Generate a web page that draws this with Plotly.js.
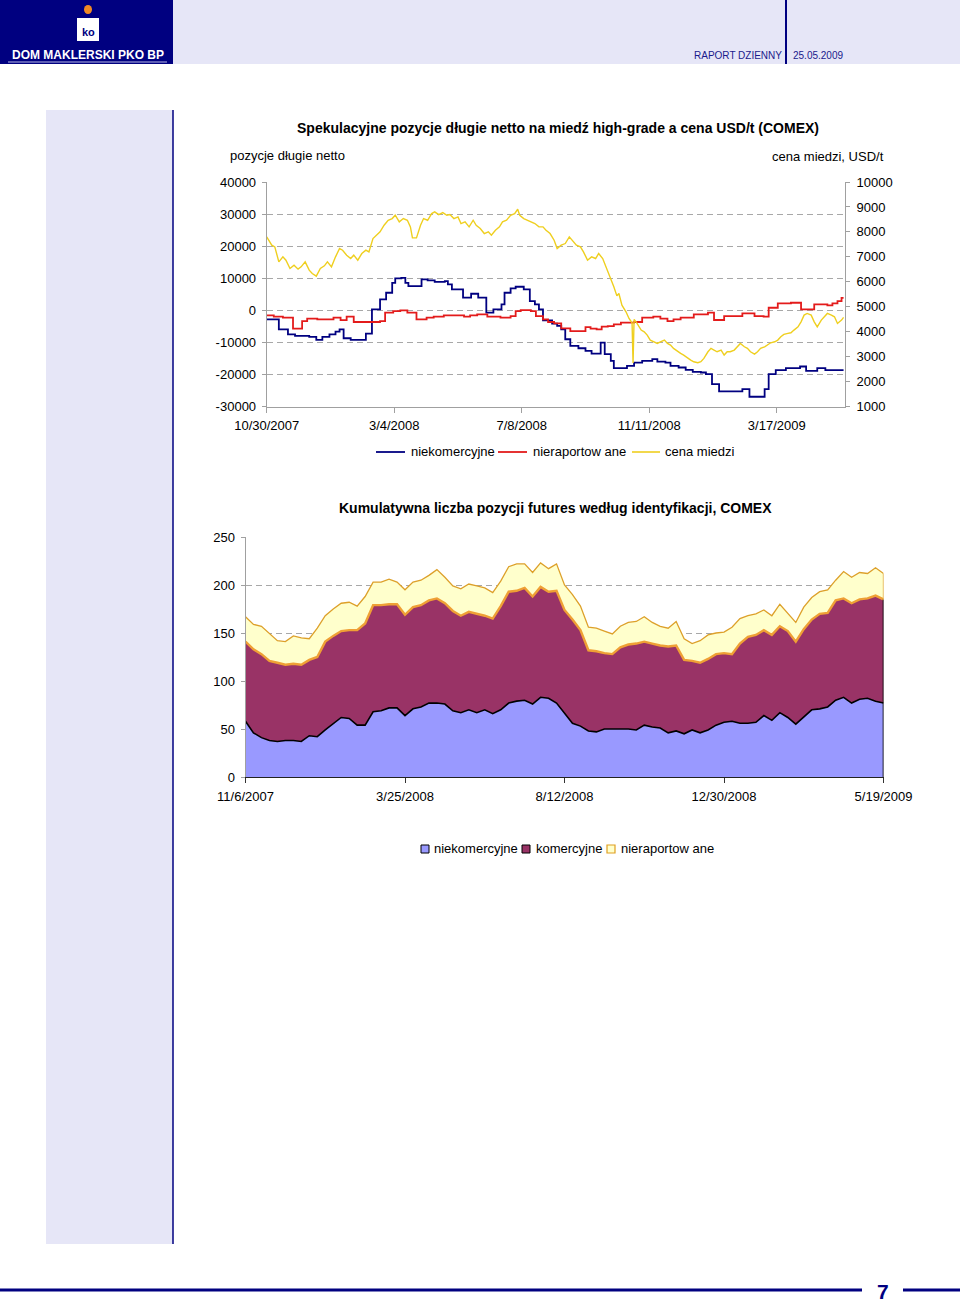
<!DOCTYPE html>
<html>
<head>
<meta charset="utf-8">
<script src="https://cdn.plot.ly/plotly-3.0.1.min.js"></script>
<style>
html,body{margin:0;padding:0;background:#fff;}
#chart{width:960px;height:1302px;}
</style>
</head>
<body>
<div id="chart"></div>
<script>
// ---------- Chart 1: net long speculative positions vs copper price ----------
// x values are days since 2007-10-30 (first point of the chart)
const chart1Start = '2007-10-30';
const chart1TickDates = ['2007-10-30','2008-03-04','2008-07-08','2008-11-11','2009-03-17'];
const chart1TickText = ['10/30/2007','3/4/2008','7/8/2008','11/11/2008','3/17/2009'];
const leftTicks = [-30000,-20000,-10000,0,10000,20000,30000,40000];
const rightTicks = [1000,2000,3000,4000,5000,6000,7000,8000,9000,10000];

// niekomercyjne (weekly steps)
const niekomDay = [0,12,21,28,42,49,55,62,68,72,76,83,98,104,112,118,124,127,133,137,140,153,159,166,176,179,183,194,202,209,217,224,232,235,241,246,254,260,265,269,273,282,287,291,295,300,308,315,321,330,334,340,343,356,363,371,381,386,394,399,407,414,421,429,434,440,447,470,477,492,496,503,513,527,533,544,552,570];
const niekomNet = [-2780,-5890,-7440,-7960,-8270,-9200,-8270,-7440,-6610,-5890,-8680,-9200,-7230,320,3430,5500,8600,9950,10150,8600,7570,9640,9330,8910,9120,8090,6530,3950,5190,3950,-710,320,1880,5500,6840,7360,6530,2910,1880,320,-3090,-4130,-4850,-5890,-8990,-11060,-11790,-12620,-13440,-10030,-13650,-15720,-17990,-17270,-16240,-15720,-15200,-15930,-16240,-17270,-17790,-18510,-19140,-19340,-19860,-22960,-25240,-24520,-26900,-24520,-19860,-18620,-17990,-17480,-18830,-17990,-18620,-18620];

// nieraportowane (weekly steps)
const nierapDay = [0,7,16,26,35,40,50,66,73,79,86,112,117,125,132,139,148,158,165,175,195,201,208,218,231,241,246,251,261,266,273,278,284,291,300,315,320,326,331,337,343,350,363,371,382,389,396,402,409,422,436,442,452,470,482,491,496,505,518,528,541,554,559,564,568,570];
const nierapNet = [-1550,-1970,-2280,-5690,-3310,-2590,-2800,-2280,-3000,-1970,-3620,-3310,-720,-210,0,-720,-2800,-2280,-1970,-1550,-1970,-1550,-1240,-1970,-2280,-1760,-210,100,-210,-1760,-2800,-3620,-4040,-5600,-6440,-5190,-5700,-5900,-5080,-4870,-4350,-3830,-3620,-2280,-1970,-2590,-3310,-2800,-2280,-1240,-720,-2990,-1760,-930,-1760,-1970,830,2170,2380,310,1860,1550,2170,2900,3930,3930];

// cena miedzi, USD/t
const priceDay = [0,5,8,12,16,19,23,27,31,34,38,42,45,49,53,57,60,64,68,72,75,79,83,86,90,94,98,101,105,109,112,116,120,124,127,131,135,139,142,144,148,152,155,159,163,166,170,174,178,181,185,189,192,196,200,204,207,211,215,219,222,226,230,233,237,241,245,248,250,254,258,261,265,269,273,276,280,284,287,291,295,299,302,306,310,313,317,321,325,328,332,336,340,343,346,348,351,355,358,361,362,363,365,368,370,373,376,379,383,386,389,393,396,399,402,406,409,412,416,419,422,426,429,432,436,439,442,445,449,452,455,458,462,465,468,472,475,478,482,485,488,492,495,498,502,505,508,511,515,518,521,525,528,531,534,538,541,544,548,551,554,558,561,564,568,570];
const priceVal = [7802,7468,7402,6802,7002,6869,6535,6669,6509,6602,6802,6469,6335,6229,6535,6642,6802,6602,7002,7335,7268,7069,6935,7069,6869,7135,7268,7202,7735,7868,8002,8268,8468,8535,8668,8402,8535,8468,8202,7762,7762,8268,8535,8468,8735,8802,8695,8775,8668,8695,8535,8602,8335,8402,8202,8468,8268,8135,7935,8002,7868,8068,8202,8402,8468,8668,8735,8908,8668,8535,8468,8402,8335,8202,8202,8068,7935,7668,7335,7468,7535,7802,7668,7468,7402,7202,6869,7002,6935,7135,6935,6535,6068,5800,5440,5533,5068,4800,4533,4360,2748,4496,4400,4200,4068,4000,3868,3668,3600,3535,3600,3668,3535,3468,3335,3200,3135,3068,2935,2868,2800,2760,2800,2935,3200,3335,3268,3200,3268,3068,3200,3200,3268,3400,3535,3400,3335,3200,3108,3200,3335,3400,3468,3560,3600,3668,3800,3895,3935,3960,4068,4200,4400,4668,4735,4668,4400,4200,4468,4600,4735,4668,4600,4335,4468,4575];

// ---------- Chart 2: cumulative futures positions by identification ----------
const weeks = ['2007-11-06','2007-11-13','2007-11-20','2007-11-27','2007-12-04','2007-12-11','2007-12-18','2007-12-25',
'2008-01-01','2008-01-08','2008-01-15','2008-01-22','2008-01-29','2008-02-05','2008-02-12','2008-02-19','2008-02-26',
'2008-03-04','2008-03-11','2008-03-18','2008-03-25','2008-04-01','2008-04-08','2008-04-15','2008-04-22','2008-04-29',
'2008-05-06','2008-05-13','2008-05-20','2008-05-27','2008-06-03','2008-06-10','2008-06-17','2008-06-24',
'2008-07-01','2008-07-08','2008-07-15','2008-07-22','2008-07-29','2008-08-05','2008-08-12','2008-08-19','2008-08-26',
'2008-09-02','2008-09-09','2008-09-16','2008-09-23','2008-09-30','2008-10-07','2008-10-14','2008-10-21','2008-10-28',
'2008-11-04','2008-11-11','2008-11-18','2008-11-25','2008-12-02','2008-12-09','2008-12-16','2008-12-23','2008-12-30',
'2009-01-06','2009-01-13','2009-01-20','2009-01-27','2009-02-03','2009-02-10','2009-02-17','2009-02-24',
'2009-03-03','2009-03-10','2009-03-17','2009-03-24','2009-03-31','2009-04-07','2009-04-14','2009-04-21','2009-04-28',
'2009-05-05','2009-05-12','2009-05-19'];
const chart2TickDates = ['2007-11-06','2008-03-25','2008-08-12','2008-12-30','2009-05-19'];
const chart2TickText = ['11/6/2007','3/25/2008','8/12/2008','12/30/2008','5/19/2009'];
const niekomercyjne = [58,46,41,38,37,38,38,37,43,42,49,56,62,61,54,54,68,69,72,72,64,71,73,77,77,76,69,67,70,67,70,66,70,77,79,80,76,83,82,77,66,56,53,48,47,50,50,50,50,49,54,52,51,46,48,45,49,46,49,54,57,58,56,56,57,64,59,67,62,55,63,70,71,73,80,83,77,81,82,79,77];
const komercyjne = [83,87,87,83,82,79,80,80,79,83,92,91,90,92,99,106,111,110,108,108,105,106,106,107,109,105,104,101,102,103,98,99,108,116,115,117,112,115,111,117,108,108,100,84,84,79,78,85,88,90,87,87,86,90,89,77,72,73,74,74,72,70,83,90,91,89,89,90,90,86,91,94,99,98,104,103,104,104,104,110,108];
const nieraportowane = [26,26,29,29,23,24,29,28,22,30,27,28,29,29,25,28,24,24,26,23,26,26,26,26,30,27,26,28,29,29,29,27,26,26,28,25,25,25,24,28,26,26,25,24,24,23,21,22,23,23,26,22,20,19,25,22,18,23,25,22,22,28,26,22,22,21,20,23,18,20,23,23,23,24,21,28,27,28,26,29,27];

// ---------- helpers ----------
const FONT = 'Liberation Sans, Arial, Helvetica, sans-serif';
const NAVY = '#000080';
const LAV = '#E6E6F7';
function px(x){return x/960;}
function py(y){return 1 - y/1302;}
function dayToDate(d){
  const t = Date.UTC(2007,9,30) + d*86400000;
  return new Date(t).toISOString().slice(0,10);
}

const traces = [
  {x: niekomDay.map(dayToDate), y: niekomNet, xaxis:'x', yaxis:'y', mode:'lines',
   line:{color:NAVY, width:1.8, shape:'hv'}, name:'niekomercyjne', hoverinfo:'skip'},
  {x: nierapDay.map(dayToDate), y: nierapNet, xaxis:'x', yaxis:'y', mode:'lines',
   line:{color:'#E31B1B', width:1.8, shape:'hv'}, name:'nieraportowane', hoverinfo:'skip'},
  {x: priceDay.map(dayToDate), y: priceVal, xaxis:'x', yaxis:'y2', mode:'lines',
   line:{color:'#EFCF1F', width:1.4}, name:'cena miedzi', hoverinfo:'skip'},
  {x: weeks, y: niekomercyjne, xaxis:'x2', yaxis:'y3', mode:'lines', stackgroup:'one',
   fillcolor:'#9999FF', line:{color:'#000000', width:1.6}, name:'niekomercyjne', hoverinfo:'skip'},
  {x: weeks, y: komercyjne, xaxis:'x2', yaxis:'y3', mode:'lines', stackgroup:'one',
   fillcolor:'#993366', line:{color:'#EFA035', width:2.4}, name:'komercyjne', hoverinfo:'skip'},
  {x: weeks, y: nieraportowane, xaxis:'x2', yaxis:'y3', mode:'lines', stackgroup:'one',
   fillcolor:'#FFFFCC', line:{color:'#DDA02A', width:1.3}, name:'nieraportowane', hoverinfo:'skip'}
];
// right-edge borders of stacked areas
const n = weeks.length - 1;
const lastDate = weeks[n];
const lvl1 = niekomercyjne[n] + komercyjne[n];
const lvl2 = lvl1 + nieraportowane[n];
traces.push({x:[lastDate,lastDate], y:[0,lvl1], xaxis:'x2', yaxis:'y3', mode:'lines',
  line:{color:'#000000', width:1.6}, hoverinfo:'skip'});
traces.push({x:[lastDate,lastDate], y:[lvl1,lvl2], xaxis:'x2', yaxis:'y3', mode:'lines',
  line:{color:'#DDA02A', width:1.3}, hoverinfo:'skip'});

const shapes = [
  // header
  {type:'rect', xref:'paper', yref:'paper', x0:px(0), x1:px(173), y0:py(64), y1:py(0), fillcolor:NAVY, line:{width:0}, layer:'below'},
  {type:'rect', xref:'paper', yref:'paper', x0:px(173), x1:px(960), y0:py(64), y1:py(0), fillcolor:LAV, line:{width:0}, layer:'below'},
  {type:'line', xref:'paper', yref:'paper', x0:px(786), x1:px(786), y0:py(64), y1:py(0), line:{color:NAVY, width:2}},
  {type:'line', xref:'paper', yref:'paper', x0:px(8), x1:px(167), y0:py(62), y1:py(62), line:{color:'#7C7CC4', width:1.5}},
  {type:'circle', xref:'paper', yref:'paper', x0:px(84), x1:px(92), y0:py(14), y1:py(5), fillcolor:'#F08A24', line:{width:0}},
  {type:'rect', xref:'paper', yref:'paper', x0:px(77), x1:px(99), y0:py(41), y1:py(18), fillcolor:'#FFFFFF', line:{width:0}},
  // sidebar
  {type:'rect', xref:'paper', yref:'paper', x0:px(46), x1:px(173), y0:py(1244), y1:py(110), fillcolor:LAV, line:{width:0}, layer:'below'},
  {type:'line', xref:'paper', yref:'paper', x0:px(173), x1:px(173), y0:py(1244), y1:py(110), line:{color:NAVY, width:1.5}},
  // footer
  {type:'line', xref:'paper', yref:'paper', x0:px(0), x1:px(862), y0:py(1290), y1:py(1290), line:{color:NAVY, width:3}},
  {type:'line', xref:'paper', yref:'paper', x0:px(903), x1:px(960), y0:py(1290), y1:py(1290), line:{color:NAVY, width:3}},
  // legend 1 samples
  {type:'line', xref:'paper', yref:'paper', x0:px(376), x1:px(405), y0:py(452), y1:py(452), line:{color:NAVY, width:1.8}},
  {type:'line', xref:'paper', yref:'paper', x0:px(498), x1:px(527), y0:py(452), y1:py(452), line:{color:'#E31B1B', width:1.8}},
  {type:'line', xref:'paper', yref:'paper', x0:px(632), x1:px(660), y0:py(452), y1:py(452), line:{color:'#EFCF1F', width:1.6}},
  // legend 2 swatches
  {type:'rect', xref:'paper', yref:'paper', x0:px(421), x1:px(429), y0:py(853), y1:py(845), fillcolor:'#9999FF', line:{color:'#000000', width:1}},
  {type:'rect', xref:'paper', yref:'paper', x0:px(522), x1:px(530), y0:py(853), y1:py(845), fillcolor:'#993366', line:{color:'#000000', width:1}},
  {type:'rect', xref:'paper', yref:'paper', x0:px(607), x1:px(615), y0:py(853), y1:py(845), fillcolor:'#FFFFCC', line:{color:'#E0A020', width:1.2}}
];

function ann(text, x, y, opts){
  return Object.assign({text:text, xref:'paper', yref:'paper', x:px(x), y:py(y), showarrow:false,
    xanchor:'left', yanchor:'middle', font:{family:FONT, size:13, color:'#000'}}, opts||{});
}
const annotations = [
  ann('<b>DOM MAKLERSKI PKO BP</b>', 88, 55, {xanchor:'center', font:{family:FONT, size:12, color:'#FFFFFF'}}),
  ann('<b>ko</b>', 88, 32, {xanchor:'center', font:{family:FONT, size:11, color:NAVY}}),
  ann('RAPORT DZIENNY', 692, 55, {font:{family:FONT, size:10, color:'#1A1A8C'}}),
  ann('25.05.2009', 791, 55, {font:{family:FONT, size:10, color:'#1A1A8C'}}),
  ann('<b>Spekulacyjne pozycje długie netto na miedź high-grade a cena USD/t (COMEX)</b>', 558, 128, {xanchor:'center', font:{family:FONT, size:14, color:'#000'}}),
  ann('pozycje długie netto', 228, 155),
  ann('cena miedzi, USD/t', 770, 156),
  ann('niekomercyjne', 409, 452),
  ann('nieraportow ane', 531, 452),
  ann('cena miedzi', 663, 452),
  ann('<b>Kumulatywna liczba pozycji futures według identyfikacji, COMEX</b>', 555, 508, {xanchor:'center', font:{family:FONT, size:14, color:'#000'}}),
  ann('niekomercyjne', 432, 848),
  ann('komercyjne', 534, 848),
  ann('nieraportow ane', 619, 848),
  ann('<b>7</b>', 883, 1291, {xanchor:'center', font:{family:FONT, size:21, color:NAVY}})
];

const tickFont = {family:FONT, size:13, color:'#000'};
const GRID = '#A8A8A8';
const layout = {
  width:960, height:1302,
  margin:{l:0, r:0, t:0, b:0},
  paper_bgcolor:'#FFFFFF', plot_bgcolor:'rgba(0,0,0,0)',
  showlegend:false,
  font:{family:FONT, size:13, color:'#000'},
  xaxis:{domain:[px(266.7), px(845)], anchor:'y', type:'date',
    range:[chart1Start, '2009-05-23 10:00'],
    tickmode:'array', tickvals:chart1TickDates, ticktext:chart1TickText,
    ticks:'outside', ticklen:5, tickcolor:'#A0A0A0', showline:true, linecolor:'#A0A0A0', linewidth:1,
    showgrid:false, zeroline:false, tickfont:tickFont, ticklabelstandoff:2},
  yaxis:{domain:[py(406.7), py(182)], anchor:'x', range:[-30000,40000],
    tickmode:'array', tickvals:leftTicks, ticktext:leftTicks.map(String),
    ticks:'outside', ticklen:4, tickcolor:'#A0A0A0', showline:true, linecolor:'#A0A0A0', linewidth:1,
    showgrid:true, gridcolor:GRID, griddash:'6px,4px', gridwidth:1, zeroline:false, tickfont:tickFont, ticklabelstandoff:3},
  yaxis2:{overlaying:'y', side:'right', anchor:'x', range:[1000,10000],
    tickmode:'array', tickvals:rightTicks, ticktext:rightTicks.map(String),
    ticks:'outside', ticklen:4, tickcolor:'#A0A0A0', showline:true, linecolor:'#A0A0A0', linewidth:1,
    showgrid:false, zeroline:false, tickfont:tickFont, ticklabelstandoff:4},
  xaxis2:{domain:[px(245.5), px(883.5)], anchor:'y3', type:'date',
    range:[weeks[0], weeks[n]],
    tickmode:'array', tickvals:chart2TickDates, ticktext:chart2TickText,
    ticks:'outside', ticklen:5, tickcolor:'#333', showline:true, linecolor:'#222', linewidth:1.2,
    showgrid:false, zeroline:false, tickfont:tickFont, ticklabelstandoff:2},
  yaxis3:{domain:[py(777), py(537)], anchor:'x2', range:[0,250], tickmode:'linear', tick0:0, dtick:50,
    ticks:'outside', ticklen:4, tickcolor:'#A0A0A0', showline:true, linecolor:'#A0A0A0', linewidth:1,
    showgrid:true, gridcolor:GRID, griddash:'6px,4px', gridwidth:1, zeroline:false, tickfont:tickFont, ticklabelstandoff:3},
  shapes: shapes,
  annotations: annotations
};

Plotly.newPlot('chart', traces, layout, {staticPlot:true, displayModeBar:false});
</script>
</body>
</html>
